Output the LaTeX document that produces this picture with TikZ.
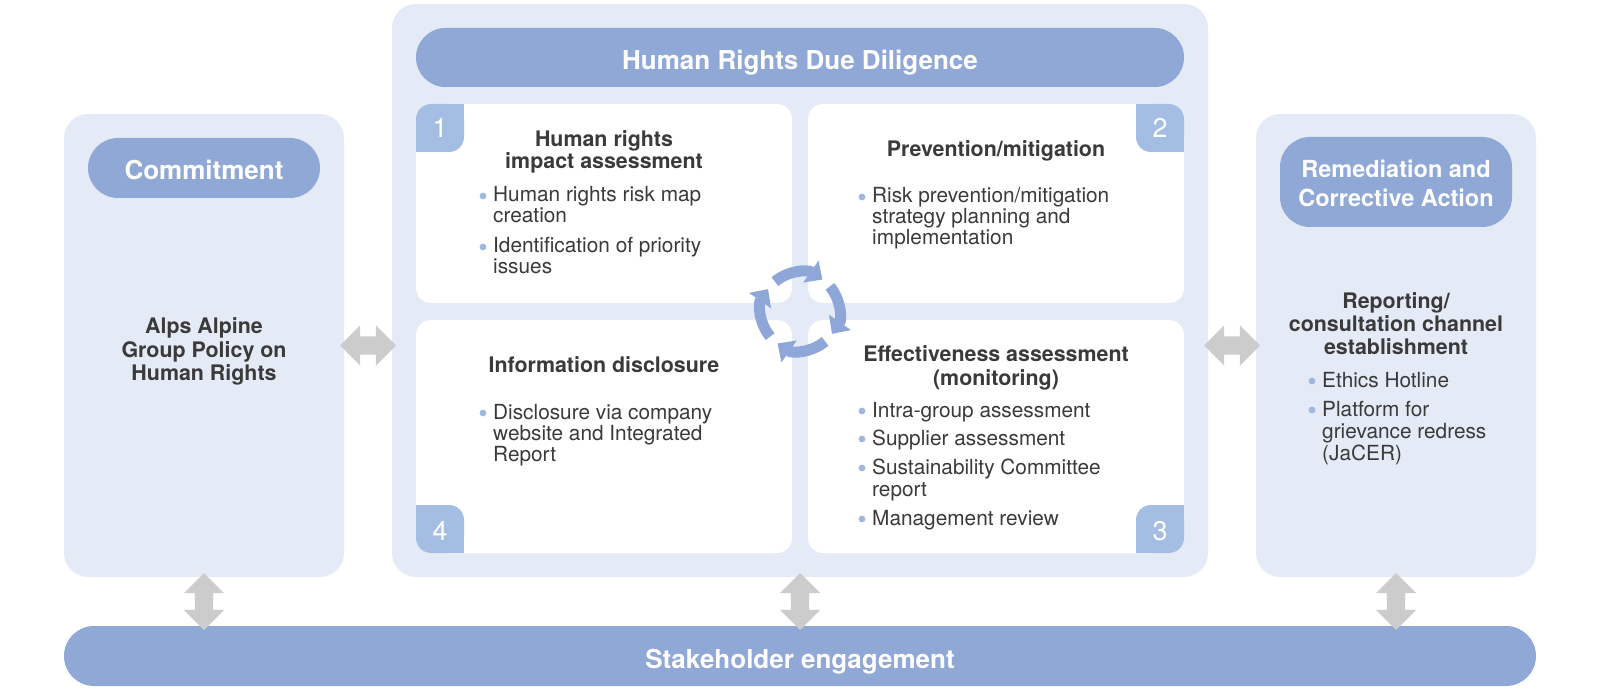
\documentclass[tikz,border=0pt]{standalone}
\usepackage{fontspec}
\setmainfont{TeX Gyre Heros}
\usetikzlibrary{shapes.arrows,arrows.meta,calc}
\definecolor{panelc}{HTML}{E4EAF6}
\definecolor{pillc}{HTML}{8FA8D6}
\definecolor{tabc}{HTML}{A4BDE3}
\definecolor{grayc}{HTML}{CCCCCC}
\definecolor{txtc}{HTML}{3A3A3A}
\definecolor{dotc}{HTML}{A0B8E0}
\definecolor{cycc}{HTML}{8EA7D8}
\newcommand\bitem[4]{\fill[dotc] (#2-10,#3-6) circle (3.4); \node[bt] (#1) at (#2,#3) {#4};}
\newcommand\bcont[4]{\node[bt] (#1) at (#2,#3) {#4};}
\begin{document}
\begin{tikzpicture}[x=1pt,y=-1pt,
  panel/.style={fill=panelc,inner sep=0pt,rounded corners=24pt},
  quad/.style={fill=white,inner sep=0pt,rounded corners=15pt,minimum width=376pt},
  pill/.style={fill=pillc,inner sep=0pt,text=white,font=\bfseries\fontsize{26}{30}\selectfont,text height=24pt,text depth=0pt},
  hd/.style={inner sep=0pt,anchor=base,text=txtc,font=\bfseries\fontsize{21.4}{25}\selectfont},
  bt/.style={inner sep=0pt,anchor=base west,text=txtc,font=\fontsize{20.8}{24}\selectfont},
  wt/.style={inner sep=0pt,anchor=base,text=white,font=\bfseries\fontsize{23.5}{28}\selectfont},
  num/.style={inner sep=0pt,anchor=base,text=white,font=\fontsize{27}{30}\selectfont},
  darrow/.style={double arrow,fill=grayc,inner sep=9pt,minimum width=0pt,double arrow head extend=11pt,double arrow tip angle=90},
  cyca/.style={draw=cycc,line width=11pt,-{Triangle[length=14pt,width=26pt]}}
]
\useasboundingbox (0,0) rectangle (1600,692);
\fill[white] (0,0) rectangle (1600,692);

% panels
\node[panel,minimum width=280pt,minimum height=463pt] (leftp) at (204,345.5) {};
\node[panel,minimum width=816pt,minimum height=573pt] (cpanel) at (800,290.5) {};
\node[panel,minimum width=280pt,minimum height=463pt] (rightp) at (1396,345.5) {};

% pills
\node[pill,rounded corners=29.5pt,minimum width=768pt,minimum height=59pt] (title) at (800,57.5) {Human Rights Due Diligence};
\node[pill,rounded corners=30pt,minimum width=232pt,minimum height=60pt] (commit) at (204,168) {Commitment};
\node[pill,rounded corners=30pt,minimum width=232pt,minimum height=90pt] (remed) at (1396,182) {};
\node[wt] (remed1) at (1396,178) {Remediation and};
\node[wt] (remed2) at (1396,207) {Corrective Action};
\node[pill,rounded corners=30pt,minimum width=1472pt,minimum height=60pt] (stake) at (800,656) {Stakeholder engagement};

% quadrants
\node[quad,minimum height=199pt] (q1) at (604,203.5) {};
\node[quad,minimum height=199pt] (q2) at (996,203.5) {};
\node[quad,minimum height=233pt] (q4) at (604,436.5) {};
\node[quad,minimum height=233pt] (q3) at (996,436.5) {};

% number tabs
\fill[tabc,rounded corners=15pt] (416,104) rectangle (464,152);
\fill[tabc] (440,104) rectangle (464,128);
\fill[tabc] (416,128) rectangle (440,152);
\fill[tabc,rounded corners=15pt] (1136,104) rectangle (1184,152);
\fill[tabc] (1136,104) rectangle (1160,128);
\fill[tabc] (1160,128) rectangle (1184,152);
\fill[tabc,rounded corners=15pt] (1136,505) rectangle (1184,553);
\fill[tabc] (1160,505) rectangle (1184,529);
\fill[tabc] (1136,529) rectangle (1160,553);
\fill[tabc,rounded corners=15pt] (416,505) rectangle (464,553);
\fill[tabc] (416,505) rectangle (440,529);
\fill[tabc] (440,529) rectangle (464,553);
\node[num] (n1) at (440,138) {1};
\node[num] (n2) at (1160,138) {2};
\node[num] (n3) at (1160,540) {3};
\node[num] (n4) at (440,540) {4};

% cycle
\coordinate (cyc) at (800,311.5);
\draw[cyca] ([shift={(-130:39)}]cyc) arc[start angle=-130,end angle=-55,radius=39];
\draw[cyca] ([shift={(-40:39)}]cyc) arc[start angle=-40,end angle=35,radius=39];
\draw[cyca] ([shift={(50:39)}]cyc) arc[start angle=50,end angle=125,radius=39];
\draw[cyca] ([shift={(140:39)}]cyc) arc[start angle=140,end angle=215,radius=39];

% gray arrows
\node[darrow,minimum height=56pt] (ah1) at ($(leftp.east)!0.5!(leftp.east -| cpanel.west)$) {};
\node[darrow,minimum height=56pt] (ah2) at ($(rightp.west)!0.5!(rightp.west -| cpanel.east)$) {};
\node[darrow,minimum height=57pt,rotate=90] (av1) at ($(leftp.south)!0.5!(leftp.south |- stake.north)$) {};
\node[darrow,minimum height=57pt,rotate=90] (av2) at ($(cpanel.south)!0.5!(cpanel.south |- stake.north)$) {};
\node[darrow,minimum height=57pt,rotate=90] (av3) at ($(rightp.south)!0.5!(rightp.south |- stake.north)$) {};

% left panel text
\node[hd] (pol1) at (204,334) {Alps Alpine};
\node[hd] (pol2) at (204,357) {Group Policy on};
\node[hd] (pol3) at (204,380) {Human Rights};

% quadrant 1
\node[hd] (h1a) at (604,147) {Human rights};
\node[hd] (h1b) at (604,169) {impact assessment};
\bitem{b1a}{493}{202}{Human rights risk map}
\bcont{b1b}{493}{223}{creation}
\bitem{b1c}{493}{253}{Identification of priority}
\bcont{b1d}{493}{274}{issues}

% quadrant 2
\node[hd] (h2a) at (996,157) {Prevention/mitigation};
\bitem{b2a}{872}{203}{Risk prevention/mitigation}
\bcont{b2b}{872}{224}{strategy planning and}
\bcont{b2c}{872}{245}{implementation}

% quadrant 4
\node[hd] (h4a) at (604,372) {Information disclosure};
\bitem{b4a}{493}{419}{Disclosure via company}
\bcont{b4b}{493}{440}{website and Integrated}
\bcont{b4c}{493}{461}{Report}

% quadrant 3
\node[hd] (h3a) at (996,362) {Effectiveness assessment};
\node[hd] (h3b) at (996,385) {(monitoring)};
\bitem{b3a}{872}{417}{Intra-group assessment}
\bitem{b3b}{872}{445}{Supplier assessment}
\bitem{b3c}{872}{474}{Sustainability Committee}
\bcont{b3d}{872}{496}{report}
\bitem{b3e}{872}{525}{Management review}

% right panel text
\node[hd] (r1) at (1396,309) {Reporting/};
\node[hd] (r2) at (1396,332) {consultation channel};
\node[hd] (r3) at (1396,354) {establishment};
\bitem{rb1}{1322}{387}{Ethics Hotline}
\bitem{rb2}{1322}{416}{Platform for}
\bcont{rb3}{1322}{438}{grievance redress}
\bcont{rb4}{1322}{460}{(JaCER)}
\end{tikzpicture}
\end{document}
